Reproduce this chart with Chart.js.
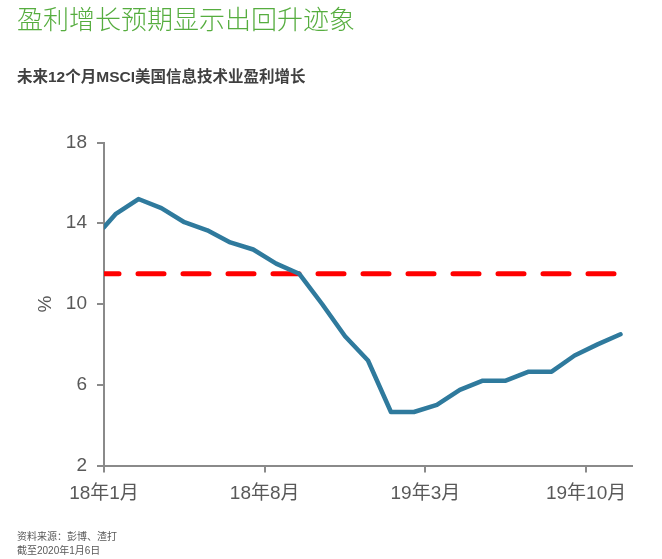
<!DOCTYPE html>
<html>
<head>
<meta charset="utf-8">
<script src="https://cdn.jsdelivr.net/npm/chart.js@4/dist/chart.umd.min.js"></script>
<style>
  body { margin: 0; background: #fff; width: 662px; height: 559px; overflow: hidden; position: relative; }
  #chart { position: absolute; left: 0; top: 0; }
  .txt { position: absolute; left: 17px; white-space: nowrap; z-index: 2; }
  #title { top: 2px; font: 300 26px "Noto Sans CJK SC", sans-serif; line-height: 32px; color: #56ad3f; }
  #subtitle { top: 66px; font: bold 15.5px "Liberation Sans", "Noto Sans CJK SC", sans-serif; line-height: 22px; color: #404040; }
  #source { top: 530px; font: 10px "Liberation Sans", "Noto Sans CJK SC", sans-serif; line-height: 13.5px; color: #595959; }
</style>
</head>
<body>
<div id="title" class="txt">盈利增长预期显示出回升迹象</div>
<div id="subtitle" class="txt">未来12个月MSCI美国信息技术业盈利增长</div>
<canvas id="chart" width="662" height="559"></canvas>
<div id="source" class="txt">资料来源：彭博、渣打<br>截至2020年1月6日</div>
<script>
// months since Jan 2018 (points sit mid-month after the first one)
const monthPos = [0, 0.5, 1.5, 2.5, 3.5, 4.5, 5.5, 6.5, 7.5, 8.5, 9.5, 10.5,
                  11.5, 12.5, 13.5, 14.5, 15.5, 16.5, 17.5, 18.5, 19.5, 20.5, 21.5, 22.5];
const growth = [13.8, 14.45, 15.2, 14.75, 14.05, 13.65, 13.05, 12.7, 12.0, 11.5, 10.0, 8.4,
                7.2, 4.65, 4.65, 5.0, 5.75, 6.2, 6.2, 6.65, 6.65, 7.45, 8.0, 8.5];

// long-run average, dashed
const avgSpan = [0, 23];
const avgLevel = [11.5, 11.5];

const tickMonths = [0, 7, 14, 21];
const tickLabels = ['18年1月', '18年8月', '19年3月', '19年10月'];

const axisGrey = '#8a8a8a';
const labelGrey = '#595959';
const font = '"Liberation Sans", Arial, "Noto Sans CJK SC", sans-serif';

const ctx = document.getElementById('chart').getContext('2d');
new Chart(ctx, {
  type: 'line',
  data: {
    datasets: [
      {
        data: monthPos.map((m, i) => ({ x: m, y: growth[i] })),
        borderColor: '#2f7a9d',
        borderWidth: 4.5,
        borderCapStyle: 'round',
        borderJoinStyle: 'round',
        pointRadius: 0,
        tension: 0,
        order: 0
      },
      {
        data: avgSpan.map((m, i) => ({ x: m, y: avgLevel[i] })),
        borderColor: '#ff0000',
        borderWidth: 5,
        borderDash: [26, 19],
        borderDashOffset: 11,
        borderCapStyle: 'round',
        pointRadius: 0,
        order: 1
      }
    ]
  },
  options: {
    responsive: false,
    devicePixelRatio: 1,
    animation: false,
    layout: { padding: { top: 142.5, left: 0, right: 30, bottom: 33.5 } },
    plugins: { legend: { display: false }, tooltip: { enabled: false } },
    scales: {
      x: {
        type: 'linear',
        min: 0,
        max: 23,
        afterBuildTicks: (s) => { s.ticks = tickMonths.map(v => ({ value: v })); },
        afterFit: (s) => { s.height = 60; },
        ticks: {
          autoSkip: false,
          maxRotation: 0,
          padding: 10,
          color: labelGrey,
          font: { family: font, size: 19 },
          callback: (v) => tickLabels[tickMonths.indexOf(v)]
        },
        grid: { drawOnChartArea: false, drawTicks: true, tickLength: 7, color: axisGrey, lineWidth: 2 },
        border: { color: axisGrey, width: 2 }
      },
      y: {
        min: 2,
        max: 18,
        afterFit: (s) => { s.width = 104; },
        ticks: {
          stepSize: 4,
          padding: 10,
          color: labelGrey,
          font: { family: font, size: 19 }
        },
        title: {
          display: true,
          text: '%',
          color: labelGrey,
          font: { family: font, size: 19 },
          padding: { top: 34, bottom: 0 }
        },
        grid: { drawOnChartArea: false, drawTicks: true, tickLength: 7, color: axisGrey, lineWidth: 2 },
        border: { color: axisGrey, width: 2 }
      }
    }
  }
});
</script>
</body>
</html>
